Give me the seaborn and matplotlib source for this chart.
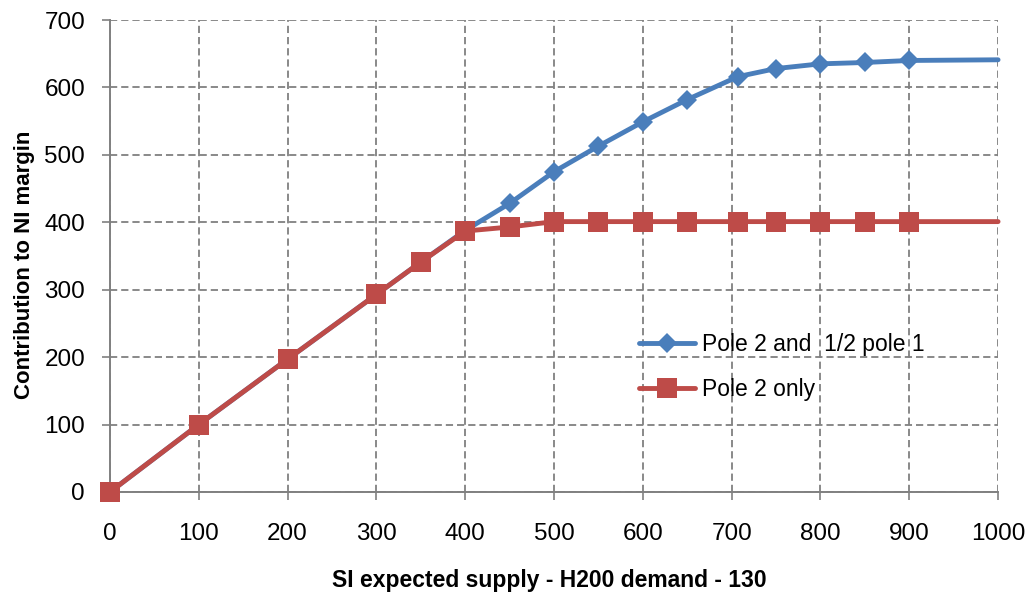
import numpy as np
import pandas as pd
import seaborn as sns
import matplotlib.pyplot as plt

# values
supply = [0, 100, 200, 300, 350, 400, 450, 500, 550, 600, 650, 707, 750, 800, 850, 900, 1000]
pole2_half_pole1 = [0, 100, 197, 293, 341, 388, 428, 475, 513, 549, 582, 616, 628, 635, 637, 640, 641]
pole2_only = [0, 100, 197, 293, 341, 387, 393, 401, 401, 401, 401, 401, 401, 401, 401, 401, 401]

series_names = ["Pole 2 and  1/2 pole 1", "Pole 2 only"]
blue = "#4A7EBB"
red = "#BE4B48"

sns.set_style("white")
plt.rcParams['font.family'] = ['Liberation Sans', 'DejaVu Sans']
plt.rcParams['text.color'] = 'black'
plt.rcParams['xtick.labelcolor'] = 'black'
plt.rcParams['ytick.labelcolor'] = 'black'
plt.rcParams['axes.labelcolor'] = 'black'

fig = plt.figure(figsize=(10.30, 6.01), dpi=100)
ax = fig.add_axes([0.1068, 0.1814, 0.969 - 0.1068, 0.9667 - 0.1814])

# last point (x=1000) has no marker in the original
marks = list(range(len(supply) - 1))

sns.lineplot(x=supply, y=pole2_half_pole1, ax=ax, color=blue, linewidth=3.5,
             marker="D", markersize=10, markeredgewidth=0, markevery=marks,
             label=series_names[0], sort=False, clip_on=False, zorder=3)
sns.lineplot(x=supply, y=pole2_only, ax=ax, color=red, linewidth=3.5,
             marker="s", markersize=14, markeredgewidth=0, markevery=marks,
             label=series_names[1], sort=False, clip_on=False, zorder=4)

ax.set_xlim(0, 1000)
ax.set_ylim(0, 700)
ax.set_xticks(np.arange(0, 1001, 100))
ax.set_yticks(np.arange(0, 701, 100))

ax.grid(True, linestyle=(0, (4, 2.2)), color="#808080", linewidth=1.3)
for side in ["top", "right"]:
    ax.spines[side].set_visible(False)
for side in ["left", "bottom"]:
    ax.spines[side].set_color("#808080")
    ax.spines[side].set_linewidth(1.4)

ax.tick_params(axis="both", which="major", direction="out", length=6, width=1.2,
               color="#808080", labelsize=17.5, bottom=True, left=True)
ax.tick_params(axis="x", pad=16)
ax.tick_params(axis="y", pad=12)

ax.set_xlabel("SI expected supply - H200 demand - 130", fontsize=16.5,
              fontweight="bold", va="top")
ax.xaxis.set_label_coords(0.495, -0.163)
ax.set_ylabel("Contribution to NI margin", fontsize=16, fontweight="bold")
ax.yaxis.set_label_coords(-0.0845, 0.481)

ax.legend(loc="center left", bbox_to_anchor=(0.596, 0.265), frameon=False,
          fontsize=16.5, handlelength=2.45, labelspacing=0.93, handletextpad=0.3,
          borderpad=0, borderaxespad=0)

fig.savefig("out.png", dpi=100)
